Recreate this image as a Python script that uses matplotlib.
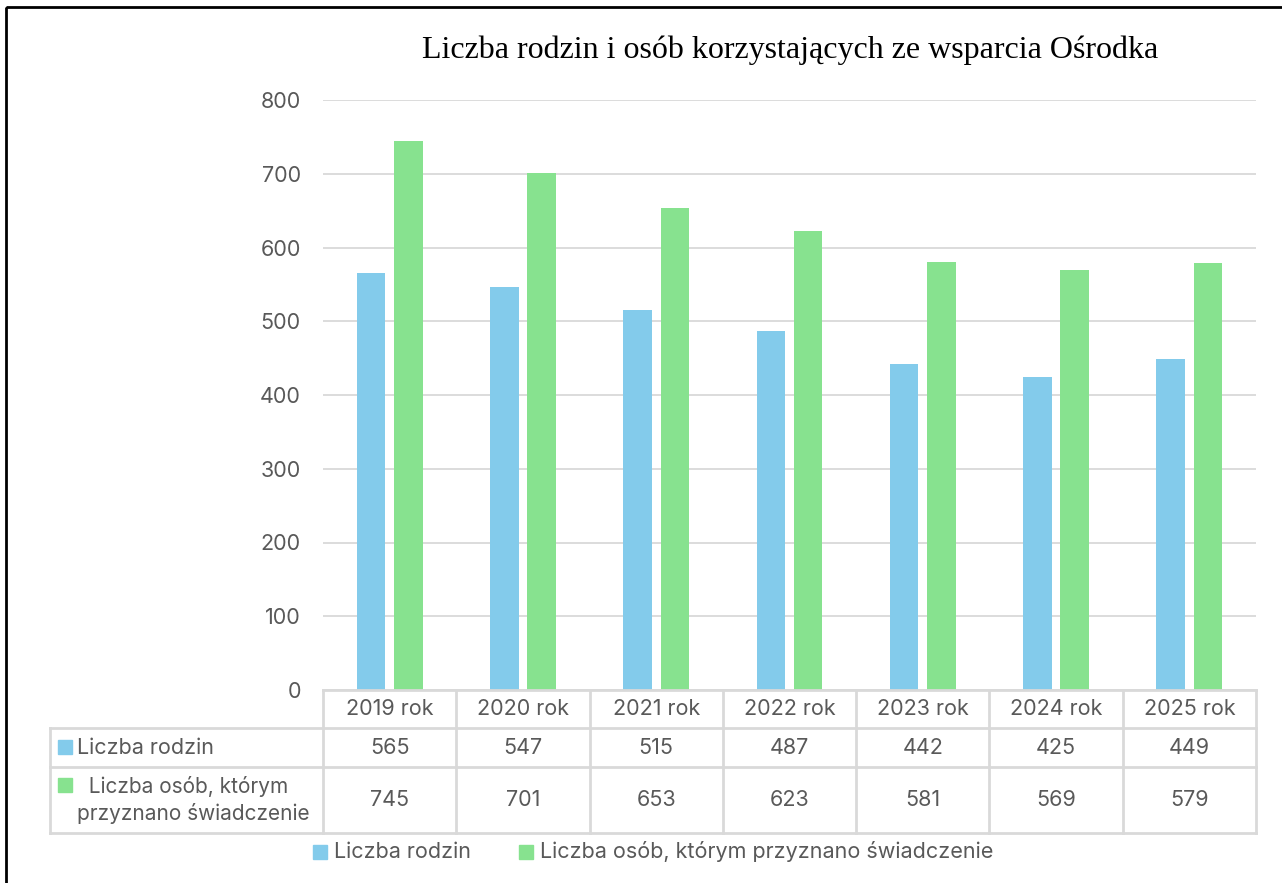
import numpy as np
import matplotlib.pyplot as plt
from matplotlib.patches import Rectangle

plt.rcParams["font.family"] = ["Inter", "DejaVu Sans"]

years = ["2019 rok", "2020 rok", "2021 rok", "2022 rok", "2023 rok", "2024 rok", "2025 rok"]
rodziny = [565, 547, 515, 487, 442, 425, 449]
osoby = [745, 701, 653, 623, 581, 569, 579]
series_names = ["Liczba rodzin", "Liczba osób, którym przyznano świadczenie"]
row_labels = ["Liczba rodzin", "  Liczba osób, którym\nprzyznano świadczenie"]

c_blue = "#83CBEB"
c_green = "#87E28F"
c_text = "#595959"
c_grid = "#D9D9D9"

W, H = 1282, 883
fig = plt.figure(figsize=(W / 100, H / 100), dpi=100)

def px_axes(x0, y0, x1, y1):
    return fig.add_axes([x0 / W, 1 - y1 / H, (x1 - x0) / W, (y1 - y0) / H])

fs = 15.5

# main plot area
ax = px_axes(323, 100, 1256, 690)
x = np.arange(len(years))
bw = 0.215
ax.bar(x - 0.14, rodziny, bw, color=c_blue, zorder=3)
ax.bar(x + 0.14, osoby, bw, color=c_green, zorder=3)
ax.set_xlim(-0.5, len(years) - 0.5)
ax.set_ylim(0, 800)
ax.set_yticks(np.arange(0, 801, 100))
ax.yaxis.grid(True, color=c_grid, linewidth=1.3, zorder=0)
ax.set_xticks([])
for s in ax.spines.values():
    s.set_visible(False)
ax.tick_params(axis="y", length=0, pad=16, labelsize=fs, labelcolor=c_text)

# overlay in pixel coordinates for table, title, legend, border
ov = fig.add_axes([0, 0, 1, 1], zorder=5)
ov.set_xlim(0, W)
ov.set_ylim(H, 0)
ov.axis("off")
ov.patch.set_alpha(0)

ov.add_patch(Rectangle((6, 7), 1400, 1000, fill=False, edgecolor="black", linewidth=2))

ov.text(790, 50, "Liczba rodzin i osób korzystających ze wsparcia Ośrodka",
        ha="center", va="center", fontsize=23, family="Liberation Serif", color="black")

# table
x0, x1, lab0 = 323, 1256, 50
y_head, y_r1, y_r2, y_end = 690, 728, 767, 833
cw = (x1 - x0) / len(years)
lk = dict(color=c_grid, linewidth=2, solid_capstyle="projecting")
ov.plot([x0, x1], [y_head, y_head], **lk)
for yy in (y_r1, y_r2, y_end):
    ov.plot([lab0, x1], [yy, yy], **lk)
for i in range(len(years) + 1):
    ov.plot([x0 + i * cw] * 2, [y_head, y_end], **lk)
ov.plot([lab0, lab0], [y_r1, y_end], **lk)

for i, yr in enumerate(years):
    cx = x0 + (i + 0.5) * cw
    ov.text(cx, (y_head + y_r1) / 2, yr, ha="center", va="center", fontsize=fs, color=c_text)
    ov.text(cx, (y_r1 + y_r2) / 2, str(rodziny[i]), ha="center", va="center", fontsize=fs, color=c_text)
    ov.text(cx, (y_r2 + y_end) / 2, str(osoby[i]), ha="center", va="center", fontsize=fs, color=c_text)

ov.add_patch(Rectangle((58, 740), 14, 14, color=c_blue))
ov.text(77, (y_r1 + y_r2) / 2, row_labels[0], ha="left", va="center", fontsize=fs, color=c_text)
ov.add_patch(Rectangle((58, 778), 14, 14, color=c_green))
ov.text(77, (y_r2 + y_end) / 2, row_labels[1], ha="left", va="center", fontsize=fs - 0.5,
        color=c_text, linespacing=1.3)

# legend
ov.add_patch(Rectangle((313, 845), 14, 14, color=c_blue))
ov.text(334, 852, series_names[0], ha="left", va="center", fontsize=fs, color=c_text)
ov.add_patch(Rectangle((519, 845), 14, 14, color=c_green))
ov.text(540, 852, series_names[1], ha="left", va="center", fontsize=fs, color=c_text)

fig.savefig("out.png", dpi=100)
